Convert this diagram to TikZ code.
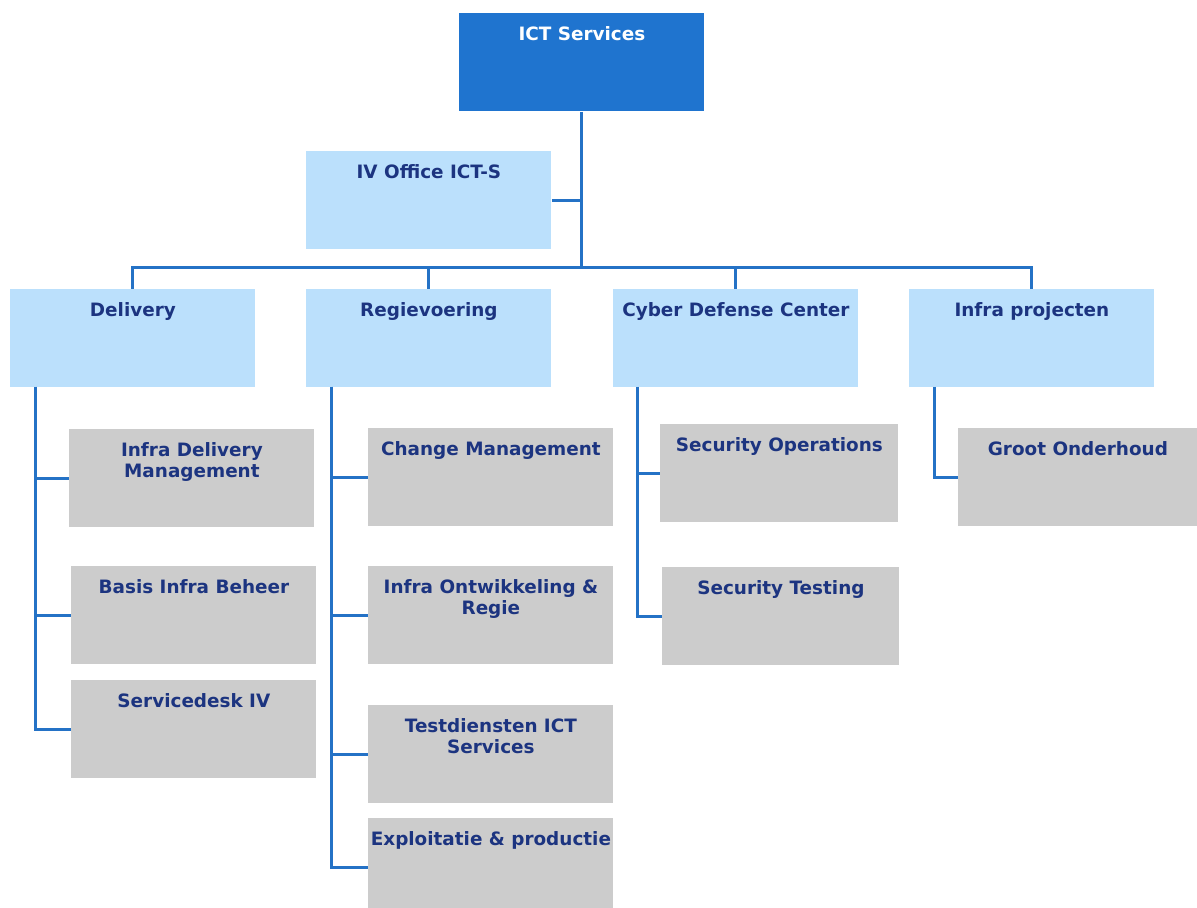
\documentclass[tikz,border=0pt]{standalone}
\usepackage{fontspec}
\setmainfont{DejaVu Sans}

\definecolor{ictblue}{RGB}{31,116,207}
\definecolor{unitblue}{RGB}{187,224,252}
\definecolor{teamgray}{RGB}{204,204,204}
\definecolor{linkblue}{RGB}{36,114,198}
\definecolor{labelblue}{RGB}{28,52,128}

% box text sits at the top of the box
\newcommand{\unitlabel}[2][122.5pt]{\parbox[t][49pt][t]{#1}{\centering\rule{0pt}{13.5pt}#2}}

\tikzset{
  unit/.style={anchor=north west, inner sep=0pt, fill=unitblue, text=labelblue,
    font=\bfseries\fontsize{9.2}{10.5}\selectfont},
  team/.style={unit, fill=teamgray},
  head/.style={unit, fill=ictblue, text=white},
  link/.style={draw=linkblue, line width=1.5pt}
}

\begin{document}
\begin{tikzpicture}[x=0.5pt, y=-0.5pt]
    \useasboundingbox (0,0) rectangle (1197,908);

    % Top
    \node[head] (ict) at (459,13) {\unitlabel{ICT Services}};
    \node[unit] (office) at (306,151) {\unitlabel{IV Office ICT-S}};

    % Afdelingen
    \node[unit] (delivery) at (10,289) {\unitlabel{Delivery}};
    \node[unit] (regie) at (306,289) {\unitlabel{Regievoering}};
    \node[unit] (cdc) at (613,289) {\unitlabel{Cyber Defense Center}};
    \node[unit] (infra) at (909,289) {\unitlabel{Infra projecten}};

    % Teams Delivery
    \node[team] (idm) at (69,429) {\unitlabel{Infra Delivery\\Management}};
    \node[team] (bib) at (71,566) {\unitlabel{Basis Infra Beheer}};
    \node[team] (sdesk) at (71,680) {\unitlabel{Servicedesk IV}};

    % Teams Regievoering
    \node[team] (change) at (368,428) {\unitlabel{Change Management}};
    \node[team] (ontw) at (368,566) {\unitlabel{Infra Ontwikkeling \&\\Regie}};
    \node[team] (test) at (368,705) {\unitlabel{Testdiensten ICT\\Services}};
    \node[team] (expl) at (368,818) {\unitlabel{\mbox{Exploitatie \& productie}}};

    % Teams Cyber Defense Center
    \node[team] (secops) at (660,424) {\unitlabel[119pt]{Security Operations}};
    \node[team] (sectest) at (662,567) {\unitlabel[118.5pt]{Security Testing}};

    % Teams Infra projecten
    \node[team] (groot) at (958,428) {\unitlabel[119.5pt]{Groot Onderhoud}};

    % Lijnen
    \coordinate (bus) at (ict.south |- 0,268);
    \draw[link] (ict.south) -- (bus);
    \draw[link] (office.east) -- (office.east -| ict.south);
    \draw[link] (delivery.north) |- (bus) -| (infra.north);
    \foreach \u in {regie,cdc} {
        \draw[link] (\u.north) -- (\u.north |- bus);
    }

    \coordinate (dspine) at (35,387);
    \coordinate (rspine) at (331,387);
    \coordinate (cspine) at (637,387);
    \coordinate (ispine) at (934,387);
    \foreach \t in {idm,bib,sdesk} {
        \draw[link] (dspine) |- (\t.west);
    }
    \foreach \t in {change,ontw,test,expl} {
        \draw[link] (rspine) |- (\t.west);
    }
    \foreach \t in {secops,sectest} {
        \draw[link] (cspine) |- (\t.west);
    }
    \draw[link] (ispine) |- (groot.west);
\end{tikzpicture}
\end{document}
